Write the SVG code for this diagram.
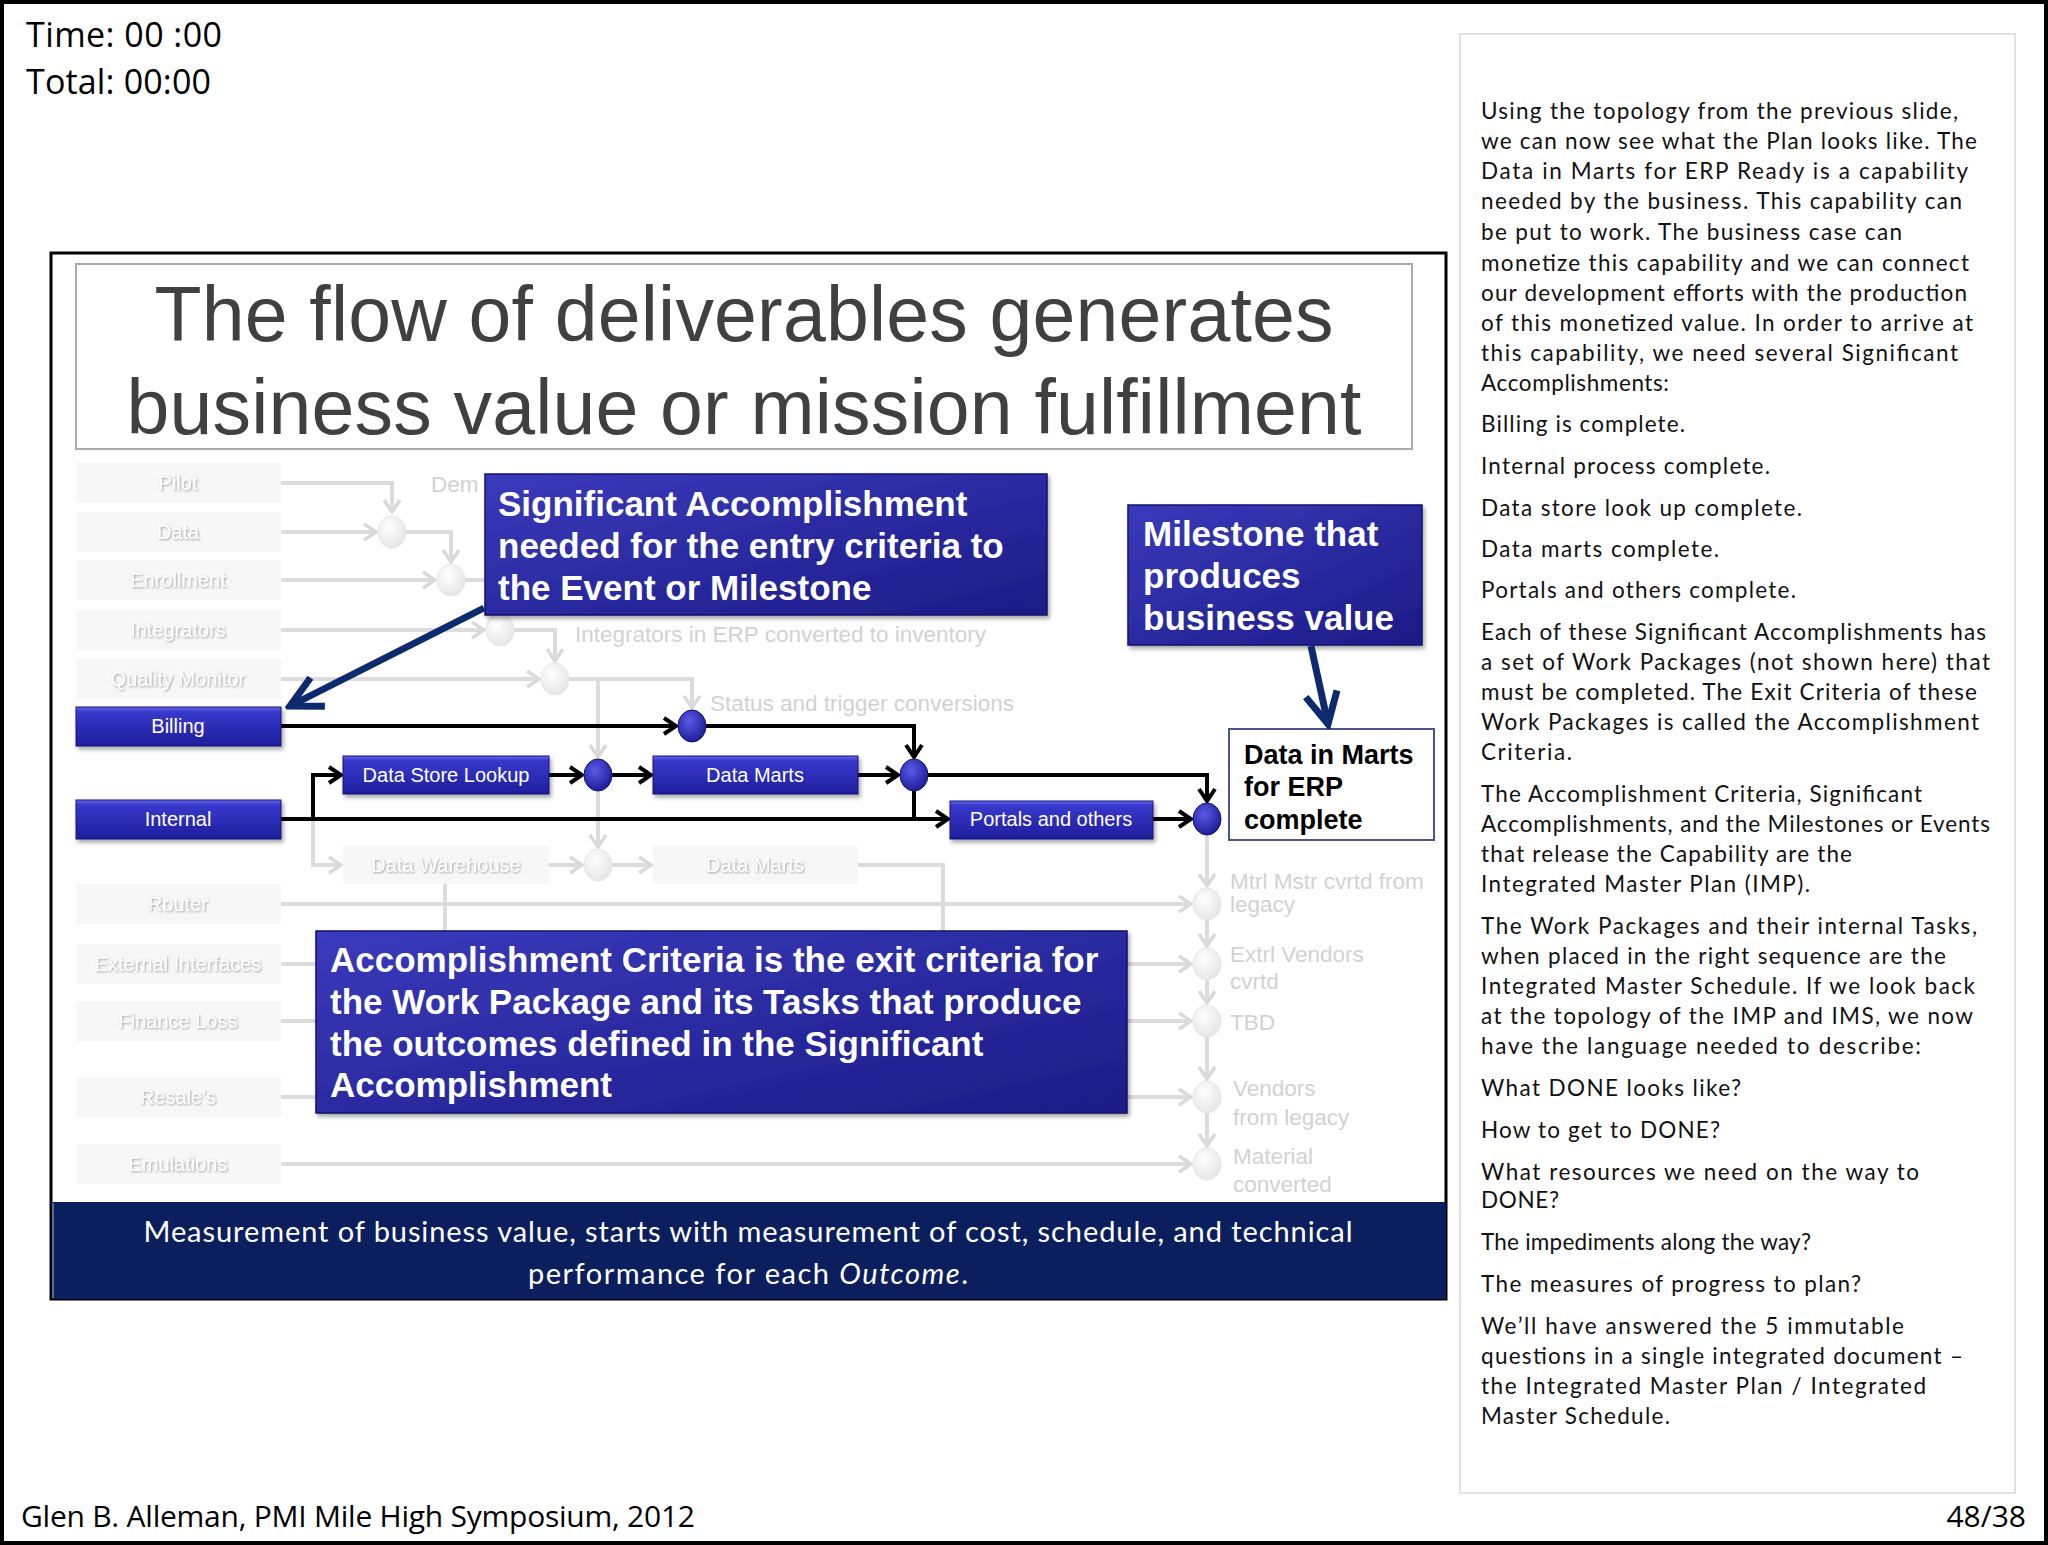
<svg xmlns="http://www.w3.org/2000/svg" width="2048" height="1545" viewBox="0 0 2048 1545">
<style>
.nl{font-family:"Liberation Sans",Arial,sans-serif;font-size:20px;fill:#fff;text-anchor:middle}
.gl{font-family:"Liberation Sans",Arial,sans-serif;font-size:20px;fill:#fff;text-anchor:middle;filter:url(#gsh)}
.gt{font-family:"Liberation Sans",Arial,sans-serif;font-size:22.5px;fill:#d2d2d2}
.ct{font-family:"Liberation Sans",Arial,sans-serif;font-size:35px;font-weight:bold;fill:#fff}
.k{stroke:#000;stroke-width:4;fill:none}
.g{stroke:#dcdcdc;stroke-width:4;fill:none}
.node{fill:url(#gNode);stroke:#15157a;stroke-width:1;filter:url(#sh)}
.gnode{fill:#f7f7f7;stroke:none}
.call{fill:url(#gCall);stroke:#14146e;stroke-width:1.5;filter:url(#sh)}
.dot{fill:url(#gDot);stroke:#12127a;stroke-width:1}
.gdot{fill:url(#gGhostDot);stroke:#e6e6e6;stroke-width:1}
.rp{font-family:Lato,"Open Sans",sans-serif;font-size:22.5px;fill:#111}
.cal{font-family:"Open Sans","Liberation Sans",sans-serif;fill:#000}
</style>
<defs>
<linearGradient id="gNode" x1="0" y1="0" x2="0" y2="1">
<stop offset="0" stop-color="#6868ee"/>
<stop offset="0.12" stop-color="#3838cc"/>
<stop offset="1" stop-color="#1e1e9c"/>
</linearGradient>
<linearGradient id="gCall" x1="0" y1="0" x2="1" y2="1">
<stop offset="0" stop-color="#3a3abc"/>
<stop offset="1" stop-color="#1b1b86"/>
</linearGradient>
<radialGradient id="gDot" cx="0.4" cy="0.35" r="0.7">
<stop offset="0" stop-color="#5a5ae8"/>
<stop offset="1" stop-color="#1a1a92"/>
</radialGradient>
<radialGradient id="gGhostDot" cx="0.4" cy="0.35" r="0.7">
<stop offset="0" stop-color="#ffffff"/>
<stop offset="1" stop-color="#e4e4e4"/>
</radialGradient>
<filter id="sh" x="-10%" y="-20%" width="130%" height="160%"><feDropShadow dx="2" dy="3" stdDeviation="2" flood-color="#000" flood-opacity="0.35"/></filter>
<filter id="gsh" x="-10%" y="-30%" width="130%" height="170%"><feDropShadow dx="1" dy="1" stdDeviation="1" flood-color="#777" flood-opacity="0.7"/></filter>
<marker id="ak" viewBox="0 0 16 20" refX="14" refY="10" markerWidth="16" markerHeight="20" markerUnits="userSpaceOnUse" orient="auto"><path d="M2,2 L14,10 L2,18" fill="none" stroke="#000" stroke-width="4"/></marker>
<marker id="ag" viewBox="0 0 16 20" refX="14" refY="10" markerWidth="16" markerHeight="20" markerUnits="userSpaceOnUse" orient="auto"><path d="M2,2 L14,10 L2,18" fill="none" stroke="#dadada" stroke-width="3.5"/></marker>
<marker id="an" viewBox="0 0 40 40" refX="35" refY="20" markerWidth="40" markerHeight="40" markerUnits="userSpaceOnUse" orient="auto"><path d="M4,4 L35,20 L4,36" fill="none" stroke="#0d2a6e" stroke-width="7"/></marker>
</defs>

<rect x="0" y="0" width="2048" height="1545" fill="#fff"/>
<rect x="2" y="2" width="2044" height="1541" fill="none" stroke="#000" stroke-width="4"/>

<g id="timer">
<text class="cal" x="26" y="47" font-size="34" textLength="196">Time: 00 :00</text>
<text class="cal" x="26" y="94" font-size="34" textLength="185">Total: 00:00</text>
</g>

<g id="slide">
<rect x="51" y="253" width="1395" height="1046" fill="#fff" stroke="#000" stroke-width="3"/>
<rect id="title-box" x="76" y="264" width="1336" height="185" fill="#fff" stroke="#aaa" stroke-width="2"/>
<text x="744" y="341" font-family="Liberation Sans,Arial,sans-serif" font-size="77" fill="#404040" text-anchor="middle" textLength="1179">The flow of deliverables generates</text>
<text x="744" y="434" font-family="Liberation Sans,Arial,sans-serif" font-size="77" fill="#404040" text-anchor="middle" textLength="1235">business value or mission fulfillment</text>
</g>

<g id="connectors">
<path class="g" d="M281,483 H392 V512" marker-end="url(#ag)"/>
<path class="g" d="M281,532 H376" marker-end="url(#ag)"/>
<path class="g" d="M406,532 H451 V562" marker-end="url(#ag)"/>
<path class="g" d="M281,580 H435" marker-end="url(#ag)"/>
<path class="g" d="M465,580 H498 V612" marker-end="url(#ag)"/>
<path class="g" d="M281,630 H484" marker-end="url(#ag)"/>
<path class="g" d="M514,630 H555 V661" marker-end="url(#ag)"/>
<path class="g" d="M281,679 H539" marker-end="url(#ag)"/>
<path class="g" d="M569,679 H692 V708" marker-end="url(#ag)"/>
<path class="g" d="M598,679 V757" marker-end="url(#ag)"/>
<path class="g" d="M598,791 V847" marker-end="url(#ag)"/>
<path class="g" d="M313,819 V865 H341" marker-end="url(#ag)"/>
<path class="g" d="M549,865 H582" marker-end="url(#ag)"/>
<path class="g" d="M612,865 H651" marker-end="url(#ag)"/>
<path class="g" d="M858,865 H943 V931"/>
<path class="g" d="M445,883 V931"/>
<path class="g" d="M281,904 H1191" marker-end="url(#ag)"/>
<path class="g" d="M281,964 H316"/>
<path class="g" d="M1127,964 H1191" marker-end="url(#ag)"/>
<path class="g" d="M281,1021 H316"/>
<path class="g" d="M1127,1021 H1191" marker-end="url(#ag)"/>
<path class="g" d="M281,1097 H316"/>
<path class="g" d="M1127,1097 H1191" marker-end="url(#ag)"/>
<path class="g" d="M281,1164 H1191" marker-end="url(#ag)"/>
<path class="g" d="M1207,835 V886" marker-end="url(#ag)"/>
<path class="g" d="M1207,920 V946" marker-end="url(#ag)"/>
<path class="g" d="M1207,980 V1003" marker-end="url(#ag)"/>
<path class="g" d="M1207,1037 V1079" marker-end="url(#ag)"/>
<path class="g" d="M1207,1113 V1146" marker-end="url(#ag)"/>
<path class="k" d="M281,726 H676" marker-end="url(#ak)"/>
<path class="k" d="M706,726 H914 V757" marker-end="url(#ak)"/>
<path class="k" d="M281,819 H948" marker-end="url(#ak)"/>
<path class="k" d="M313,819 V775 H341" marker-end="url(#ak)"/>
<path class="k" d="M549,775 H582" marker-end="url(#ak)"/>
<path class="k" d="M612,775 H651" marker-end="url(#ak)"/>
<path class="k" d="M858,775 H898" marker-end="url(#ak)"/>
<path class="k" d="M914,790 V819"/>
<path class="k" d="M928,775 H1207 V801" marker-end="url(#ak)"/>
<path class="k" d="M1153,819 H1191" marker-end="url(#ak)"/>
</g>

<g id="ghost-nodes">
<rect class="gnode" x="76" y="463" width="205" height="40"/><text class="gl" x="178" y="490">Pilot</text>
<rect class="gnode" x="76" y="512" width="205" height="40"/><text class="gl" x="178" y="539">Data</text>
<rect class="gnode" x="76" y="560" width="205" height="40"/><text class="gl" x="178" y="587">Enrollment</text>
<rect class="gnode" x="76" y="610" width="205" height="40"/><text class="gl" x="178" y="637">Integrators</text>
<rect class="gnode" x="76" y="659" width="205" height="40"/><text class="gl" x="178" y="686">Quality Monitor</text>
<rect class="gnode" x="76" y="884" width="205" height="40"/><text class="gl" x="178" y="911">Router</text>
<rect class="gnode" x="76" y="944" width="205" height="40"/><text class="gl" x="178" y="971">External Interfaces</text>
<rect class="gnode" x="76" y="1001" width="205" height="40"/><text class="gl" x="178" y="1028">Finance Loss</text>
<rect class="gnode" x="76" y="1077" width="205" height="40"/><text class="gl" x="178" y="1104">Resale's</text>
<rect class="gnode" x="76" y="1144" width="205" height="40"/><text class="gl" x="178" y="1171">Emulations</text>
<rect class="gnode" x="343" y="846" width="206" height="38"/><text class="gl" x="446" y="872">Data Warehouse</text>
<rect class="gnode" x="653" y="846" width="205" height="38"/><text class="gl" x="755" y="872">Data Marts</text>
<ellipse class="gdot" cx="392" cy="532" rx="14" ry="16"/>
<ellipse class="gdot" cx="451" cy="580" rx="14" ry="16"/>
<ellipse class="gdot" cx="500" cy="630" rx="14" ry="16"/>
<ellipse class="gdot" cx="555" cy="679" rx="14" ry="16"/>
<ellipse class="gdot" cx="598" cy="865" rx="14" ry="16"/>
<ellipse class="gdot" cx="1207" cy="904" rx="14" ry="16"/>
<ellipse class="gdot" cx="1207" cy="964" rx="14" ry="16"/>
<ellipse class="gdot" cx="1207" cy="1021" rx="14" ry="16"/>
<ellipse class="gdot" cx="1207" cy="1097" rx="14" ry="16"/>
<ellipse class="gdot" cx="1207" cy="1164" rx="14" ry="16"/>
<text class="gt" x="431" y="492">Dem</text>
<text class="gt" x="575" y="642">Integrators in ERP converted to inventory</text>
<text class="gt" x="710" y="711">Status and trigger conversions</text>
<text class="gt" x="1230" y="889">Mtrl Mstr cvrtd from</text>
<text class="gt" x="1230" y="912">legacy</text>
<text class="gt" x="1230" y="962">Extrl Vendors</text>
<text class="gt" x="1230" y="989">cvrtd</text>
<text class="gt" x="1230" y="1030">TBD</text>
<text class="gt" x="1233" y="1096">Vendors</text>
<text class="gt" x="1233" y="1125">from legacy</text>
<text class="gt" x="1233" y="1164">Material</text>
<text class="gt" x="1233" y="1192">converted</text>
</g>

<g id="node-billing"><rect class="node" x="76" y="707" width="205" height="39"/><text class="nl" x="178" y="733">Billing</text></g>
<g id="node-internal"><rect class="node" x="76" y="800" width="205" height="39"/><text class="nl" x="178" y="826">Internal</text></g>
<g id="node-datastore"><rect class="node" x="343" y="756" width="206" height="38"/><text class="nl" x="446" y="782">Data Store Lookup</text></g>
<g id="node-datamarts"><rect class="node" x="653" y="756" width="205" height="38"/><text class="nl" x="755" y="782">Data Marts</text></g>
<g id="node-portals"><rect class="node" x="950" y="801" width="203" height="38"/><text class="nl" x="1051" y="826">Portals and others</text></g>
<g id="node-dot1"><ellipse class="dot" cx="692" cy="726" rx="14" ry="16"/></g>
<g id="node-dot2"><ellipse class="dot" cx="598" cy="775" rx="14" ry="16"/></g>
<g id="node-dot3"><ellipse class="dot" cx="914" cy="775" rx="14" ry="16"/></g>
<g id="node-dot4"><ellipse class="dot" cx="1207" cy="819" rx="14" ry="16"/></g>
<g id="node-datainmarts">
<rect x="1229" y="729" width="205" height="111" fill="#fff" stroke="#4a5590" stroke-width="2"/>
<text x="1244" y="764" font-family="Liberation Sans,Arial,sans-serif" font-size="27" font-weight="bold" fill="#000">Data in Marts</text>
<text x="1244" y="796" font-family="Liberation Sans,Arial,sans-serif" font-size="27" font-weight="bold" fill="#000">for ERP</text>
<text x="1244" y="829" font-family="Liberation Sans,Arial,sans-serif" font-size="27" font-weight="bold" fill="#000">complete</text>
</g>

<g id="callout-sa">
<rect class="call" x="485" y="474" width="562" height="141"/>
<text class="ct" x="498" y="516">Significant Accomplishment</text>
<text class="ct" x="498" y="558">needed for the entry criteria to</text>
<text class="ct" x="498" y="600">the Event or Milestone</text>
<path d="M484,608 L290,706" stroke="#0d2a6e" stroke-width="7" fill="none" marker-end="url(#an)"/>
</g>
<g id="callout-milestone">
<rect class="call" x="1128" y="505" width="294" height="140"/>
<text class="ct" x="1143" y="546">Milestone that</text>
<text class="ct" x="1143" y="588">produces</text>
<text class="ct" x="1143" y="630">business value</text>
<path d="M1311,646 L1328,724" stroke="#0d2a6e" stroke-width="7" fill="none" marker-end="url(#an)"/>
</g>
<g id="callout-ac">
<rect class="call" x="316" y="931" width="811" height="182"/>
<text class="ct" x="330" y="972">Accomplishment Criteria is the exit criteria for</text>
<text class="ct" x="330" y="1014">the Work Package and its Tasks that produce</text>
<text class="ct" x="330" y="1056">the outcomes defined in the Significant</text>
<text class="ct" x="330" y="1097">Accomplishment</text>
</g>

<g id="band">
<rect x="52" y="1202" width="1394" height="97" fill="#0b1f5e"/>
<line x1="53" y1="1203" x2="53" y2="1298" stroke="#5a6a9a" stroke-width="2"/>
<text x="748" y="1242" font-family="Lato,'Open Sans',sans-serif" font-size="29" fill="#fff" text-anchor="middle" textLength="1209">Measurement of business value, starts with measurement of cost, schedule, and technical</text>
<text x="748" y="1284" font-family="Lato,'Open Sans',sans-serif" font-size="29" fill="#fff" text-anchor="middle" textLength="440">performance for each <tspan font-style="italic">Outcome</tspan>.</text>
</g>

<g id="notes">
<rect x="1460" y="34" width="555" height="1459" fill="#fff" stroke="#d8d8d8" stroke-width="1.5"/>
<text class="rp" x="1481" y="119" textLength="477">Using the topology from the previous slide,</text>
<text class="rp" x="1481" y="149" textLength="496">we can now see what the Plan looks like. The</text>
<text class="rp" x="1481" y="179" textLength="487">Data in Marts for ERP Ready is a capability</text>
<text class="rp" x="1481" y="209" textLength="481">needed by the business. This capability can</text>
<text class="rp" x="1481" y="240" textLength="421">be put to work. The business case can</text>
<text class="rp" x="1481" y="271" textLength="488">monetize this capability and we can connect</text>
<text class="rp" x="1481" y="301" textLength="486">our development efforts with the production</text>
<text class="rp" x="1481" y="331" textLength="492">of this monetized value. In order to arrive at</text>
<text class="rp" x="1481" y="361" textLength="477">this capability, we need several Significant</text>
<text class="rp" x="1481" y="391" textLength="188">Accomplishments:</text>
<text class="rp" x="1481" y="432" textLength="204">Billing is complete.</text>
<text class="rp" x="1481" y="474" textLength="289">Internal process complete.</text>
<text class="rp" x="1481" y="516" textLength="321">Data store look up complete.</text>
<text class="rp" x="1481" y="557" textLength="238">Data marts complete.</text>
<text class="rp" x="1481" y="598" textLength="315">Portals and others complete.</text>
<text class="rp" x="1481" y="640" textLength="505">Each of these Significant Accomplishments has</text>
<text class="rp" x="1481" y="670" textLength="509">a set of Work Packages (not shown here) that</text>
<text class="rp" x="1481" y="700" textLength="496">must be completed. The Exit Criteria of these</text>
<text class="rp" x="1481" y="730" textLength="498">Work Packages is called the Accomplishment</text>
<text class="rp" x="1481" y="760" textLength="91">Criteria.</text>
<text class="rp" x="1481" y="802" textLength="441">The Accomplishment Criteria, Significant</text>
<text class="rp" x="1481" y="832" textLength="509">Accomplishments, and the Milestones or Events</text>
<text class="rp" x="1481" y="862" textLength="371">that release the Capability are the</text>
<text class="rp" x="1481" y="892" textLength="329">Integrated Master Plan (IMP).</text>
<text class="rp" x="1481" y="934" textLength="496">The Work Packages and their internal Tasks,</text>
<text class="rp" x="1481" y="964" textLength="465">when placed in the right sequence are the</text>
<text class="rp" x="1481" y="994" textLength="494">Integrated Master Schedule. If we look back</text>
<text class="rp" x="1481" y="1024" textLength="492">at the topology of the IMP and IMS, we now</text>
<text class="rp" x="1481" y="1054" textLength="440">have the language needed to describe:</text>
<text class="rp" x="1481" y="1096" textLength="260">What DONE looks like?</text>
<text class="rp" x="1481" y="1138" textLength="239">How to get to DONE?</text>
<text class="rp" x="1481" y="1180" textLength="438">What resources we need on the way to</text>
<text class="rp" x="1481" y="1208" textLength="78">DONE?</text>
<text class="rp" x="1481" y="1250" textLength="330">The impediments along the way?</text>
<text class="rp" x="1481" y="1292" textLength="380">The measures of progress to plan?</text>
<text class="rp" x="1481" y="1334" textLength="423">We’ll have answered the 5 immutable</text>
<text class="rp" x="1481" y="1364" textLength="482">questions in a single integrated document –</text>
<text class="rp" x="1481" y="1394" textLength="445">the Integrated Master Plan / Integrated</text>
<text class="rp" x="1481" y="1424" textLength="189">Master Schedule.</text>
</g>

<g id="footer">
<text class="cal" x="21" y="1527" font-size="30" textLength="674">Glen B. Alleman, PMI Mile High Symposium, 2012</text>
<text class="cal" x="2026" y="1527" font-size="30" text-anchor="end">48/38</text>
</g>
</svg>
